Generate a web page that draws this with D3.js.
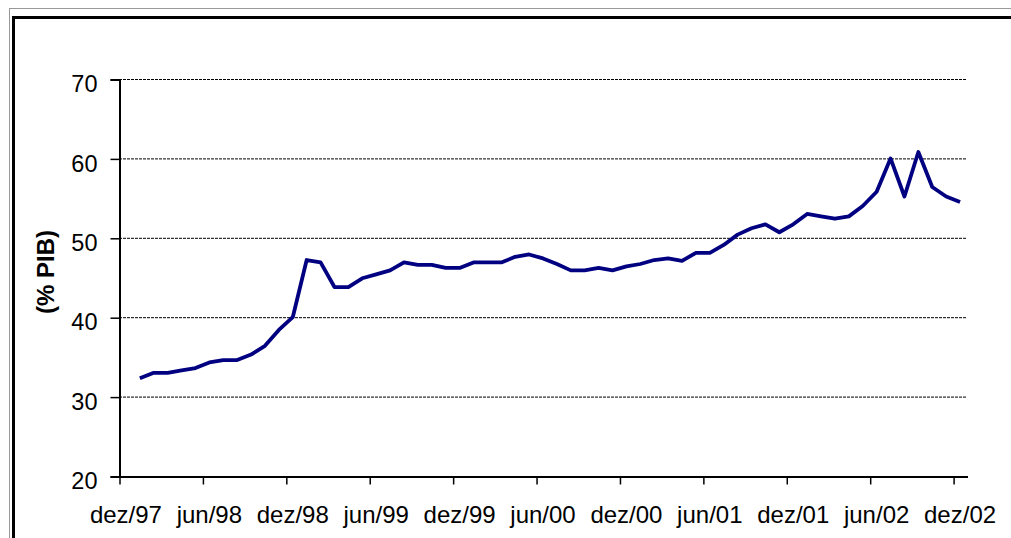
<!DOCTYPE html>
<html>
<head>
<meta charset="utf-8">
<script src="https://cdn.jsdelivr.net/npm/d3@7"></script>
<style>
  body { margin: 0; background: #fff; }
  svg { display: block; font-family: "Liberation Sans", Arial, sans-serif; }
</style>
</head>
<body>
<svg></svg>
<script>
let SVG = d3.select('svg').attr('width', 1011).attr('height', 538);

// ---

// monthly categories, dez/97 .. dez/02 (61 months)
const MONTHS = ['jan', 'fev', 'mar', 'abr', 'mai', 'jun', 'jul', 'ago', 'set', 'out', 'nov', 'dez'];
let CATEGORIES = ['dez/97'];
for (let y = 98; y <= 102; y++) {
  MONTHS.forEach(m => CATEGORIES.push(m + '/' + String(y % 100).padStart(2, '0')));
}

const TICK_LABELS = ['dez/97', 'jun/98', 'dez/98', 'jun/99', 'dez/99', 'jun/00',
  'dez/00', 'jun/01', 'dez/01', 'jun/02', 'dez/02'];

const Y_TICKS = [20, 30, 40, 50, 60, 70];

// % PIB, jan/98 .. dez/02 (no value for dez/97)
const VALUES = [null,
  32.3, 33.0, 33.0, 33.3, 33.6, 34.3, 34.6, 34.6, 35.3, 36.4, 38.4, 40.0,
  47.2, 46.9, 43.8, 43.8, 44.9, 45.4, 45.9, 46.9, 46.6, 46.6, 46.2, 46.2,
  46.9, 46.9, 46.9, 47.6, 47.9, 47.4, 46.7, 45.9, 45.9, 46.2, 45.9, 46.4,
  46.7, 47.2, 47.4, 47.1, 48.1, 48.1, 49.1, 50.4, 51.2, 51.7, 50.7, 51.7,
  53.0, 52.7, 52.4, 52.7, 54.0, 55.8, 60.0, 55.2, 60.8, 56.4, 55.2, 54.5];

// ---

// frame
SVG.append('rect').attr('x', 9.5).attr('y', 8.5).attr('width', 1010).attr('height', 540)
  .attr('fill', 'none').attr('stroke', '#999').attr('stroke-width', 1);
SVG.append('rect').attr('x', 13.5).attr('y', 17.5).attr('width', 1010).attr('height', 540)
  .attr('fill', 'none').attr('stroke', '#000').attr('stroke-width', 3);

const LEFT = 119, RIGHT = 967, TOP = 79, BOTTOM = 476;

let xScale = d3.scaleBand().domain(CATEGORIES).range([LEFT, RIGHT]).padding(0);
let yScale = d3.scaleLinear().domain([20, 70]).range([BOTTOM, TOP]);

// gridlines
SVG.append('g').selectAll('line')
  .data(Y_TICKS.filter(d => d > 20))
  .join('line')
  .attr('x1', LEFT).attr('x2', RIGHT)
  .attr('y1', d => yScale(d) + 0.5).attr('y2', d => yScale(d) + 0.5)
  .attr('stroke', '#000').attr('stroke-width', 1).attr('stroke-dasharray', '3,1');

// left y-axis
let yAxisLeft = d3.axisLeft(yScale).tickValues(Y_TICKS).tickSize(9).tickPadding(13);
let yAxisLeftG = SVG.append('g').attr('transform', `translate(${LEFT + 0.5},0.5)`);
yAxisLeft(yAxisLeftG);
yAxisLeftG.select('.domain').attr('stroke-width', 2);
yAxisLeftG.selectAll('line').attr('stroke-width', 1.5);
yAxisLeftG.selectAll('text')
  .attr('font-family', '"Liberation Sans", Arial, sans-serif')
  .attr('font-size', 23.5).attr('fill', '#000').attr('dy', '0.52em');

// bottom x-axis: ticks between categories, every 6 months
let xIdx = d3.scaleLinear().domain([0, CATEGORIES.length]).range([LEFT, RIGHT]);
let tickIdx = TICK_LABELS.map(l => CATEGORIES.indexOf(l));
let xAxisBottom = d3.axisBottom(xIdx).tickValues(tickIdx).tickSize(8).tickFormat('').tickSizeOuter(0);
let xAxisBottomG = SVG.append('g').attr('transform', `translate(0.5,${BOTTOM + 0.5})`);
xAxisBottom(xAxisBottomG);
xAxisBottomG.select('.domain').attr('stroke-width', 2);
xAxisBottomG.selectAll('line').attr('stroke-width', 1.5);

SVG.append('g').selectAll('text')
  .data(TICK_LABELS)
  .join('text')
  .attr('x', d => xScale(d) + xScale.bandwidth() / 2)
  .attr('y', 523)
  .attr('text-anchor', 'middle')
  .attr('font-size', 24)
  .attr('fill', '#000')
  .text(d => d);

// y title
SVG.append('text')
  .attr('transform', 'translate(54,272) rotate(-90)')
  .attr('text-anchor', 'middle')
  .attr('font-size', 24)
  .attr('font-weight', 'bold')
  .text('(% PIB)');

// line
let line = d3.line()
  .defined(d => d != null)
  .x((d, i) => xScale(CATEGORIES[i]) + xScale.bandwidth() / 2)
  .y(d => yScale(d));

SVG.append('path')
  .datum(VALUES)
  .attr('d', line)
  .attr('fill', 'none')
  .attr('stroke', '#000080')
  .attr('stroke-width', 3.8)
  .attr('stroke-linejoin', 'round');
</script>
</body>
</html>
